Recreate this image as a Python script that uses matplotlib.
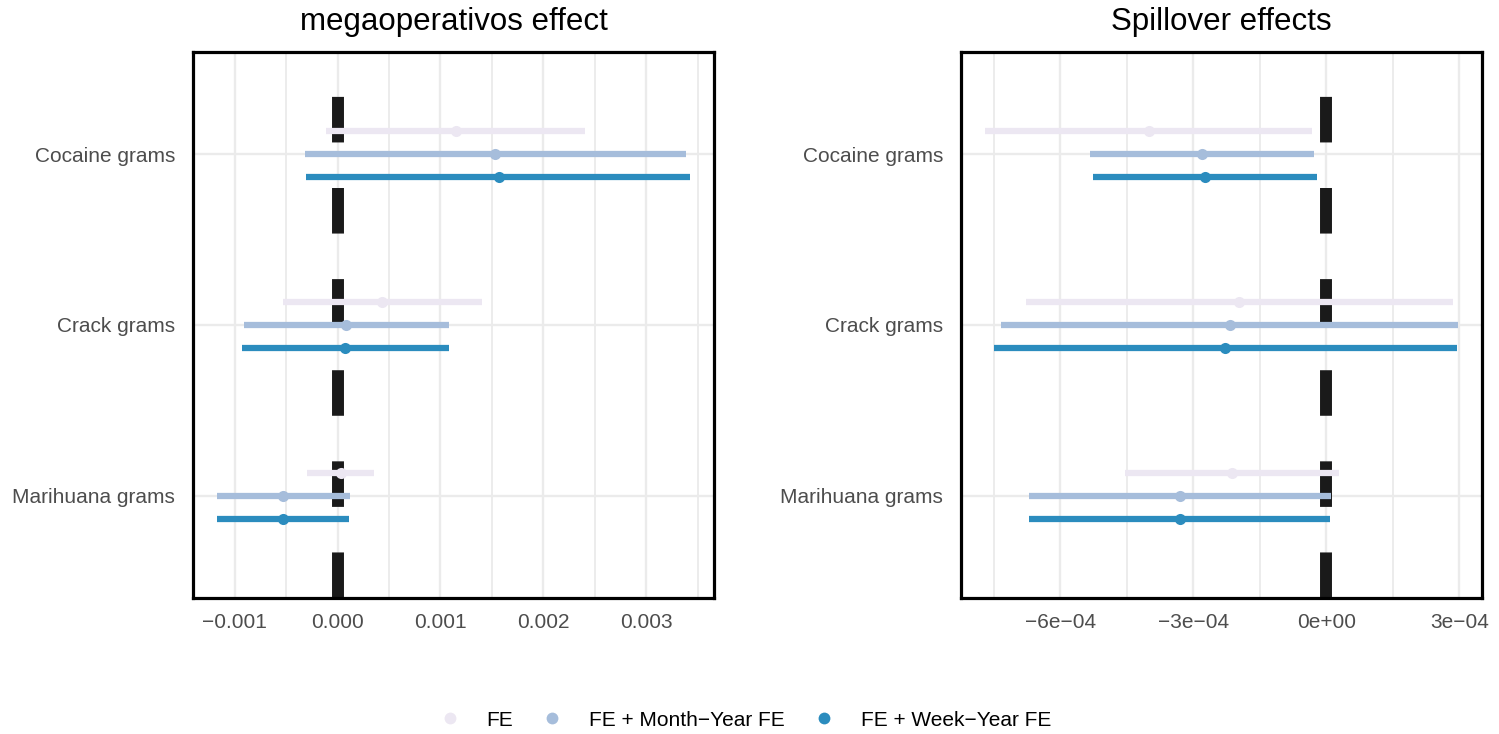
import matplotlib
matplotlib.use('Agg')
import matplotlib.pyplot as plt
from matplotlib.lines import Line2D
from matplotlib.ticker import FixedLocator, FixedFormatter, MultipleLocator

plt.rcParams['font.family'] = ['Liberation Sans', 'DejaVu Sans']
plt.rcParams['lines.scale_dashes'] = False

categories = ['Cocaine grams', 'Crack grams', 'Marihuana grams']
models = ['FE', 'FE + Month\u2212Year FE', 'FE + Week\u2212Year FE']
colors = ['#ECE7F2', '#A6BDDB', '#2B8CBE']

# rows = model (FE, Month-Year, Week-Year), cols = category
mega_est = [[0.00115, 0.00043, 0.00003],
            [0.00153, 0.00008, -0.00053],
            [0.00157, 0.00007, -0.00053]]
mega_lo = [[-0.000115, -0.000534, -0.000297],
           [-0.00032, -0.000912, -0.001175],
           [-0.00031, -0.000928, -0.001175]]
mega_hi = [[0.002407, 0.001409, 0.000356],
           [0.003385, 0.001083, 0.000118],
           [0.00343, 0.001083, 0.000111]]

spill_est = [[-4.01e-4, -1.97e-4, -2.13e-4],
             [-2.81e-4, -2.18e-4, -3.31e-4],
             [-2.74e-4, -2.28e-4, -3.31e-4]]
spill_lo = [[-7.71e-4, -6.78e-4, -4.55e-4],
            [-5.33e-4, -7.35e-4, -6.71e-4],
            [-5.27e-4, -7.50e-4, -6.71e-4]]
spill_hi = [[-0.32e-4, 2.85e-4, 0.29e-4],
            [-0.27e-4, 2.98e-4, 0.10e-4],
            [-0.21e-4, 2.95e-4, 0.09e-4]]

mega_ticks = [-0.001, 0.0, 0.001, 0.002, 0.003]
mega_labels = ['\u22120.001', '0.000', '0.001', '0.002', '0.003']
spill_ticks = [-6e-4, -3e-4, 0.0, 3e-4]
spill_labels = ['\u22126e\u221204', '\u22123e\u221204', '0e+00', '3e\u221204']

ypos = [3, 2, 1]
offsets = [0.135, 0.0, -0.135]

fig = plt.figure(figsize=(14.99, 7.34), dpi=100)
ax1 = fig.add_axes([193/1499, 1-598/734, 521/1499, 546/734])
ax2 = fig.add_axes([961/1499, 1-598/734, 521/1499, 546/734])


def draw_panel(ax, est, lo, hi, title, ticks, labels, minor_step):
    # zero reference line, dashes start from the bottom
    ax.axvline(0, color='#1A1A1A', lw=8.6, ls=(0, (32.8, 32.8)), zorder=1)
    for m in range(len(models)):
        ys = [y + offsets[m] for y in ypos]
        for j in range(len(categories)):
            ax.plot([lo[m][j], hi[m][j]], [ys[j], ys[j]], color=colors[m],
                    lw=4.5, solid_capstyle='butt', zorder=2)
        ax.plot(est[m], ys, 'o', color=colors[m], ms=8, mec='none', zorder=3)
    ax.margins(x=0.05)
    ax.set_ylim(0.4, 3.6)
    ax.set_yticks(ypos)
    ax.set_yticklabels(categories)
    ax.xaxis.set_major_locator(FixedLocator(ticks))
    ax.xaxis.set_major_formatter(FixedFormatter(labels))
    ax.xaxis.set_minor_locator(MultipleLocator(minor_step))
    ax.grid(which='major', color='#EBEBEB', lw=1.7, zorder=0)
    ax.grid(which='minor', axis='x', color='#EBEBEB', lw=1.3, zorder=0)
    ax.set_axisbelow(True)
    ax.tick_params(which='both', length=0, labelsize=15, labelcolor='#4D4D4D')
    ax.tick_params(axis='x', pad=11)
    ax.tick_params(axis='y', pad=13)
    for s in ax.spines.values():
        s.set_linewidth(2.3)
        s.set_color('black')
    ax.set_title(title, fontsize=22.5, pad=16)


draw_panel(ax1, mega_est, mega_lo, mega_hi, 'megaoperativos effect',
           mega_ticks, mega_labels, 0.0005)
draw_panel(ax2, spill_est, spill_lo, spill_hi, 'Spillover effects',
           spill_ticks, spill_labels, 1.5e-4)

handles = [Line2D([], [], ls='none', marker='o', ms=8.5, color=c, mec='none') for c in colors]
fig.legend(handles, models, loc='center', bbox_to_anchor=(0.497, 1-720/734), ncol=3,
           frameon=False, fontsize=15, handlelength=1.0, handletextpad=1.25,
           columnspacing=1.4)

fig.savefig('out.png', dpi=100)
